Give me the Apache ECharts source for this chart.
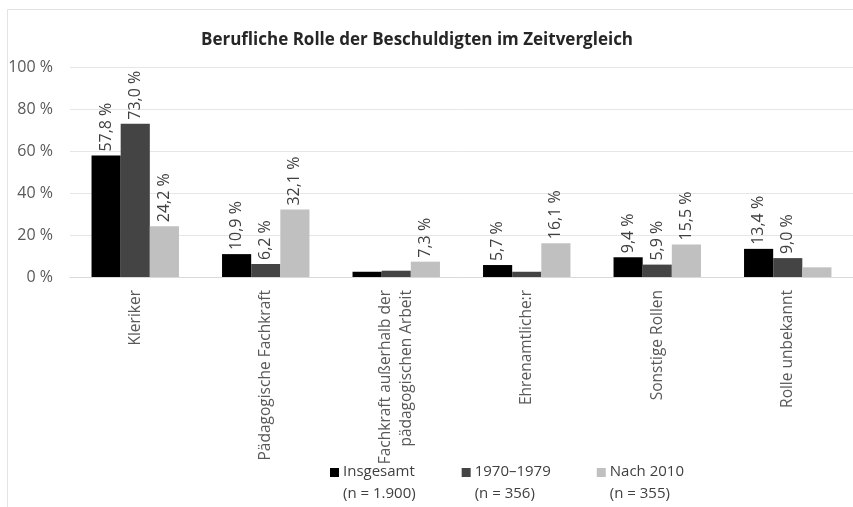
<!DOCTYPE html>
<html>
<head>
<meta charset="utf-8">
<script src="https://cdn.jsdelivr.net/npm/echarts@6/dist/echarts.min.js"></script>
<style>
  html, body { margin: 0; padding: 0; background: #fff; }
  #chart { width: 853px; height: 507px; }
</style>
</head>
<body>
<div id="chart"></div>
<script>
// categories and series (percent)
var categories = ['Kleriker', 'Pädagogische Fachkraft', 'Fachkraft außerhalb der\npädagogischen Arbeit', 'Ehrenamtliche:r', 'Sonstige Rollen', 'Rolle unbekannt'];
var seriesNames = ['Insgesamt\n(n = 1.900)', '1970–1979\n(n = 356)', 'Nach 2010\n(n = 355)'];
var insgesamt = [57.8, 10.9, 2.5, 5.7, 9.4, 13.4];
var siebziger = [73.0, 6.2, 3.0, 2.5, 5.9, 9.0];
var nach2010 = [24.2, 32.1, 7.3, 16.1, 15.5, 4.6];
// which bars carry a value label in the original
var showInsgesamt = [true, true, false, true, true, true];
var showSiebziger = [true, true, false, false, true, true];
var showNach2010 = [true, true, true, true, true, false];
var yTicks = [0, 20, 40, 60, 80, 100];

var colors = ['#000000', '#444444', '#c0c0c0'];
var font = '"Open Sans", "Noto Sans", sans-serif';

function fmt(v) {
  return v.toFixed(1).replace('.', ',') + ' %';
}

function makeData(values, flags) {
  return values.map(function (v, i) {
    return { value: v, label: { show: flags[i] } };
  });
}

var chart = echarts.init(document.getElementById('chart'));

var barLabel = {
  show: true,
  position: 'top',
  rotate: 90,
  align: 'left',
  verticalAlign: 'middle',
  distance: 4,
  color: '#404040',
  fontFamily: font,
  fontSize: 16,
  formatter: function (p) { return fmt(p.value); }
};

var seriesData = [
  makeData(insgesamt, showInsgesamt),
  makeData(siebziger, showSiebziger),
  makeData(nach2010, showNach2010)
];

var option = {
  animation: false,
  backgroundColor: '#fff',
  title: {
    text: 'Berufliche Rolle der Beschuldigten im Zeitvergleich',
    left: 412,
    textAlign: 'center',
    top: 27,
    textStyle: { fontFamily: font, fontSize: 17, fontWeight: 'bold', color: '#262626' }
  },
  graphic: [{
    type: 'rect',
    shape: { x: 7.5, y: 9.5, width: 900, height: 600 },
    style: { fill: 'none', stroke: '#e3e3e3', lineWidth: 1 },
    silent: true
  }],
  legend: {
    data: seriesNames,
    left: 330,
    top: 461,
    padding: 0,
    itemGap: 46,
    itemWidth: 9,
    itemHeight: 44,
    icon: 'path://M0,0h0.01v0.01h-0.01z M0,7h9v9h-9z M0,44h0.01v0.01h-0.01z',
    textStyle: { fontFamily: font, fontSize: 15, color: '#404040', lineHeight: 22, padding: [0, 0, 0, -1] }
  },
  grid: { left: 70, top: 67, width: 792, height: 210 },
  xAxis: {
    type: 'category',
    data: categories,
    axisLine: { lineStyle: { color: '#d9d9d9' } },
    axisTick: { show: false },
    axisLabel: {
      rotate: 90,
      interval: 0,
      margin: 13,
      color: '#595959',
      fontFamily: font,
      fontSize: 15.5,
      lineHeight: 21
    }
  },
  yAxis: {
    type: 'value',
    min: 0,
    max: 100,
    interval: 20,
    axisLine: { show: false },
    axisTick: { show: false },
    splitLine: { lineStyle: { color: '#e6e6e6' } },
    axisLabel: {
      margin: 17,
      color: '#595959',
      fontFamily: font,
      fontSize: 16,
      formatter: function (v) { return yTicks.indexOf(v) >= 0 ? v + ' %' : ''; }
    }
  },
  series: seriesNames.map(function (name, i) {
    return {
      name: name,
      type: 'bar',
      data: seriesData[i],
      barGap: '0%',
      barCategoryGap: '33%',
      itemStyle: { color: colors[i] },
      label: barLabel
    };
  })
};

chart.setOption(option);
</script>
</body>
</html>
